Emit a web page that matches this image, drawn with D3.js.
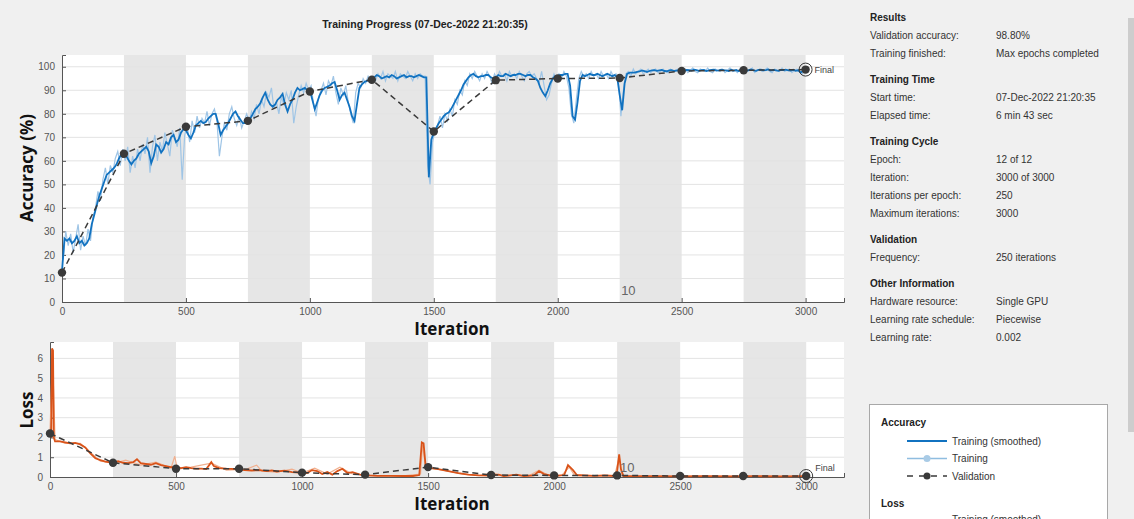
<!DOCTYPE html>
<html>
<head>
<meta charset="utf-8">
<script src="https://cdn.jsdelivr.net/npm/d3@7"></script>
<style>
  body { margin: 0; background: #f0f0f0; }
  svg { display: block; font-family: "Liberation Sans", Arial, sans-serif; }
  .tick text { fill: #555; font-size: 10px; }
  .panel-head { font-weight: bold; fill: #222; font-size: 10px; }
  .panel-text { fill: #333; font-size: 10px; }
  .axis-title { font-family: "Open Sans", "DejaVu Sans", sans-serif; font-weight: 700; font-size: 17px; fill: #111; }
</style>
</head>
<body>
<div id="chart"></div>
<script>
// ---- data ----
const epochBands = [[250, 500], [750, 1000], [1250, 1500], [1750, 2000], [2250, 2500], [2750, 3000]];

const valIter = [0, 250, 500, 750, 1000, 1250, 1500, 1750, 2000, 2250, 2500, 2750, 3000];
const valAcc  = [12.5, 63, 74.5, 77, 89.5, 94.5, 72.5, 94.3, 95, 95.2, 98.2, 98.5, 98.8];
const valLoss = [2.2, 0.72, 0.42, 0.42, 0.22, 0.12, 0.5, 0.1, 0.08, 0.08, 0.05, 0.05, 0.05];

// smoothed training accuracy (%), one value every 10 iterations from 0 to 3000
const accSmoothStep = 10;
const accSmoothed = [
  13,27,26,27,25,26,28,25,26,24, 25,27,33,37,41,45,48,51,54,55, 56,57,58.5,61,63,
  63,62,60,58.5,60,61,63,64,65,66, 64,59,62,67,66,63.5,65,68,67,70, 71,68,69,72,73.5,
  73,71,69.5,72,75,76,77,76,76.5,78, 79,80,80,76,71,73,74.5,76,78,80, 81,79,77.5,76,76,
  77,78,80,82,83,84.5,87,89,86,84, 83,84,86,87,88.5,84,81,84,86,89, 91,90,90.5,91,90,
  90,86,82,85,88,90,91,91.5,92,93, 93.5,90,86,88,89,86,83,79,77,84, 91,92.5,93.5,94,94.5,
  95,95.5,96.5,96,95,95.5,96,95.5,96.5,96, 95,95.5,96,96.5,95.5,96,96,95.5,96,96.5, 96,95.5,95.5,53,69,
  72,74,76,77.5,79,80,80.5,82,84,86, 88,90,92.5,94,95.5,96.5,97,96,95.5,96, 96,96.5,96.5,95.5,95,
  95.5,96.5,96,96,97,96.5,96,96.5,96.5,97, 97,96.5,96,96.5,96.5,95.5,95,94,91,89, 87.5,90,93,95,96,
  96,96.5,96.5,97,97,92,79,77.5,85,94, 96.5,96,96.5,97,96.5,96.5,97,96.5,96,96.5, 97,96.5,96,96.5,95.5,
  88,81.5,93,97,97.5,97.5,97.5,97.8,98,98.4, 98.2,97.8,98.2,98.5,98.6,98.3,98.5,98.7,98.2,98.1, 98.5,98.6,98.2,98.4,98.5,
  98.5,98.2,98.7,98.6,98.4,98.8,98.6,98.3,98.6,98.7, 98.2,98.5,98.7,98.8,98.4,98.5,98.8,98.6,98.5,98.2, 98.7,98.4,98.6,98.2,98.5,
  98.7,98.4,98.6,98.9,98.5,98.3,98.7,98.8,98.5,98.6, 98.9,98.4,98.7,98.5,98.3,98.7,98.6,98.8,98.5,98.4, 98.7,98.3,98.5,97.6,98.2,
  98.6
];

// raw training accuracy (%), one value every 10 iterations from 5 to 2995
const accRawStart = 5, accRawStep = 10;
const accRaw = [
  18,30,24,29,21,27,33,22,28,24, 31,26,36,40,47,43,52,57,50,58, 55,61,64,58,65,
  60,66,55,62,57,65,60,67,63,70, 55,66,71,60,68,64,72,67,62,73, 70,66,74,52,71,
  75,68,77,72,79,74,78,76,81,75, 80,82,77,62,70,76,73,80,83,78, 75,79,74,77,80,
  77,81,78,84,80,86,83,89,87,91, 82,85,80,87,84,89,86,90,76,83, 88,92,89,93,90,
  92,84,79,87,90,93,88,94,92,96, 89,84,91,88,92,85,80,76,89,93, 91,95,93,96,94,
  96,94,97,95,98,94,97,96,95,98, 94,97,96,95,98,96,94,97,95,97, 96,96,58,50,68,
  73,75,79,74,80,77,82,79,86,84, 90,88,94,92,97,95,98,96,94,97, 95,98,96,93,97,
  95,98,96,97,94,98,96,97,95,98, 96,94,97,98,96,97,95,93,98,92, 86,88,93,97,95,
  97,95,98,96,91,80,76,86,95,98, 96,97,95,98,96,97,95,98,96,97, 95,98,96,97,95,
  79,90,97,98,96,99,97,98,99,97, 98,99,97.5,98.5,99,97.5,98,99,98,97.5, 99,98,98.5,99,97.5,
  98.5,99,97.5,98.5,99.5,98,97.5,99,98.5,98, 99.5,98,97.5,99,98.5,98,99,97.5,98.5,99.5, 98,98.5,97.5,99,98.5,
  99,98,98.5,99.5,97.5,98.5,99,98,98.5,99.5, 98,97.5,99,98.5,98,99.5,98,98.5,99,97.5, 98.5,99,98,97,98
];

// smoothed training loss, [iteration, loss]
const lossSmoothed = [
  [0,2.2],[5,2.0],[8,6.5],[12,6.4],[15,2.0],[20,1.8],[40,1.8],[60,1.75],[80,1.7],[100,1.72],[120,1.65],
  [140,1.5],[160,1.2],[180,0.95],[200,0.85],[220,0.78],[250,0.72],[270,0.8],[290,0.72],[310,0.7],[330,0.75],
  [345,0.9],[360,0.7],[400,0.62],[420,0.7],[440,0.6],[460,0.55],[480,0.5],[500,0.5],[520,0.45],[540,0.5],
  [560,0.45],[580,0.42],[600,0.42],[620,0.4],[640,0.75],[650,0.55],[670,0.45],[700,0.42],[740,0.4],
  [760,0.36],[800,0.33],[830,0.35],[860,0.3],[880,0.33],[900,0.28],[930,0.32],[960,0.25],[990,0.22],
  [1020,0.2],[1040,0.35],[1060,0.3],[1080,0.15],[1100,0.25],[1120,0.12],[1140,0.3],[1160,0.42],[1180,0.2],
  [1200,0.25],[1230,0.12],[1260,0.08],[1300,0.06],[1350,0.06],[1400,0.05],[1440,0.05],[1465,0.1],
  [1475,1.75],[1482,1.7],[1490,0.6],[1510,0.45],[1540,0.4],[1580,0.3],[1620,0.2],[1660,0.12],[1700,0.08],
  [1750,0.07],[1780,0.12],[1800,0.05],[1850,0.12],[1880,0.05],[1920,0.08],[1940,0.3],[1960,0.15],
  [2000,0.05],[2040,0.1],[2055,0.6],[2075,0.35],[2090,0.1],[2120,0.08],[2160,0.06],[2200,0.08],[2240,0.05],
  [2250,0.3],[2258,1.15],[2265,0.4],[2275,0.05],[2300,0.04],[2400,0.04],[2500,0.03],[2600,0.04],
  [2700,0.03],[2800,0.04],[2900,0.03],[3000,0.04]
];

// raw training loss, [iteration, loss]
const lossRaw = [
  [0,2.3],[10,6.2],[20,1.9],[60,1.7],[120,1.7],[200,0.8],[260,0.7],[300,0.85],[360,0.6],[420,0.75],
  [480,0.45],[495,1.05],[505,0.4],[560,0.5],[640,0.7],[700,0.35],[780,0.4],[820,0.6],[840,0.3],
  [900,0.25],[960,0.4],[1000,0.2],[1050,0.45],[1100,0.15],[1150,0.5],[1200,0.15],[1300,0.05],
  [1400,0.06],[1470,0.15],[1478,1.6],[1490,0.5],[1560,0.35],[1640,0.15],[1700,0.08],[1760,0.2],
  [1800,0.05],[1860,0.1],[1900,0.06],[1940,0.35],[1980,0.06],[2030,0.08],[2060,0.5],[2080,0.1],
  [2100,0.05],[2160,0.07],[2240,0.05],[2258,1.0],[2270,0.05],[2400,0.03],[2600,0.04],[3000,0.03]
];

const accTicks  = [0, 10, 20, 30, 40, 50, 60, 70, 80, 90, 100];
const lossTicks = [0, 1, 2, 3, 4, 5, 6];
const iterTicks = [0, 500, 1000, 1500, 2000, 2500, 3000];

const infoRows = [
  { head: "Results" },
  { label: "Validation accuracy:", value: "98.80%" },
  { label: "Training finished:", value: "Max epochs completed" },
  { head: "Training Time" },
  { label: "Start time:", value: "07-Dec-2022 21:20:35" },
  { label: "Elapsed time:", value: "6 min 43 sec" },
  { head: "Training Cycle" },
  { label: "Epoch:", value: "12 of 12" },
  { label: "Iteration:", value: "3000 of 3000" },
  { label: "Iterations per epoch:", value: "250" },
  { label: "Maximum iterations:", value: "3000" },
  { head: "Validation" },
  { label: "Frequency:", value: "250 iterations" },
  { head: "Other Information" },
  { label: "Hardware resource:", value: "Single GPU" },
  { label: "Learning rate schedule:", value: "Piecewise" },
  { label: "Learning rate:", value: "0.002" }
];

// ---- drawing ----
const W = 1134, H = 519;
const colors = {
  smoothAcc: "#1172c0", rawAcc: "#9fc5e6",
  smoothLoss: "#d95319", rawLoss: "#f1b08f",
  val: "#3a3a3a", band: "#e6e6e6", grid: "#e3e3e3", axis: "#555"
};

const svg = d3.select("#chart").append("svg").attr("width", W).attr("height", H);
svg.append("rect").attr("width", W).attr("height", H).attr("fill", "#f0f0f0");

svg.append("text")
  .attr("x", 425).attr("y", 28)
  .attr("text-anchor", "middle")
  .attr("font-size", "10.5px").attr("font-weight", "bold").attr("fill", "#222")
  .text("Training Progress (07-Dec-2022 21:20:35)");

function drawPanel(cfg) {
  const x = d3.scaleLinear().domain(cfg.xDomain).range([cfg.left, cfg.right]);
  const y = d3.scaleLinear().domain(cfg.yDomain).range([cfg.bottom, cfg.top]);
  const g = svg.append("g");

  g.append("rect")
    .attr("x", cfg.left).attr("y", cfg.top)
    .attr("width", cfg.right - cfg.left).attr("height", cfg.bottom - cfg.top)
    .attr("fill", "#fff");

  g.selectAll(".band").data(epochBands).enter().append("rect")
    .attr("x", d => x(d[0])).attr("y", cfg.top)
    .attr("width", d => x(d[1]) - x(d[0])).attr("height", cfg.bottom - cfg.top)
    .attr("fill", colors.band);

  g.selectAll(".grid").data(cfg.yTicks.slice(1)).enter().append("line")
    .attr("x1", cfg.left).attr("x2", cfg.right)
    .attr("y1", d => y(d)).attr("y2", d => y(d))
    .attr("stroke", colors.grid).attr("stroke-width", 1);

  // axes with inward ticks
  const xAxis = g.append("g")
    .attr("transform", `translate(0,${cfg.bottom})`)
    .call(d3.axisBottom(x).tickValues(iterTicks).tickFormat(d3.format("d")).tickSize(-4).tickPadding(6));
  const yAxis = g.append("g")
    .attr("transform", `translate(${cfg.left},0)`)
    .call(d3.axisLeft(y).tickValues(cfg.yTicks).tickFormat(d3.format("d")).tickSize(-4).tickPadding(7));
  [xAxis, yAxis].forEach(a => {
    a.select(".domain").attr("stroke", colors.axis);
    a.selectAll(".tick line").attr("stroke", colors.axis);
    a.selectAll(".tick text").attr("font-family", "'Liberation Sans', Arial, sans-serif");
  });

  const line = d3.line().x(d => x(d[0])).y(d => y(d[1]));

  g.append("path").datum(cfg.raw)
    .attr("d", line).attr("fill", "none")
    .attr("stroke", cfg.rawColor).attr("stroke-width", 1.2);

  g.append("path").datum(cfg.smooth)
    .attr("d", line).attr("fill", "none")
    .attr("stroke", cfg.smoothColor).attr("stroke-width", 1.8);

  const valPts = valIter.map((it, i) => [it, cfg.val[i]]);
  g.append("path").datum(valPts)
    .attr("d", line).attr("fill", "none")
    .attr("stroke", colors.val).attr("stroke-width", 1.5)
    .attr("stroke-dasharray", "6,4");
  g.selectAll(".vdot").data(valPts).enter().append("circle")
    .attr("cx", d => x(d[0])).attr("cy", d => y(d[1]))
    .attr("r", 4.2).attr("fill", colors.val);

  const last = valPts[valPts.length - 1];
  g.append("circle")
    .attr("cx", x(last[0])).attr("cy", y(last[1]))
    .attr("r", 6.5).attr("fill", "none")
    .attr("stroke", colors.val).attr("stroke-width", 1);
  g.append("text")
    .attr("x", x(last[0]) + 9).attr("y", y(last[1]) + cfg.finalDy)
    .attr("font-size", "9px").attr("fill", "#444")
    .text("Final");

  g.append("text")
    .attr("x", x(cfg.markX)).attr("y", cfg.markY)
    .attr("text-anchor", "middle")
    .attr("font-size", "13px").attr("fill", "#666")
    .text("10");

  svg.append("text").attr("class", "axis-title")
    .attr("x", 452).attr("y", cfg.bottom + 33)
    .attr("text-anchor", "middle")
    .text("Iteration");
  svg.append("text").attr("class", "axis-title")
    .attr("transform", `translate(${cfg.yLabelX},${cfg.yLabelY}) rotate(-90)`)
    .attr("text-anchor", "middle")
    .text(cfg.yLabel);
}

const accSmoothPts = accSmoothed.map((v, i) => [i * accSmoothStep, v]);
const accRawPts = accRaw.map((v, i) => [accRawStart + i * accRawStep, v]);

drawPanel({
  left: 62, right: 844, top: 55, bottom: 302,
  xDomain: [0, 3155], yDomain: [0, 105], yTicks: accTicks,
  raw: accRawPts, smooth: accSmoothPts, val: valAcc,
  rawColor: colors.rawAcc, smoothColor: colors.smoothAcc,
  finalDy: 3, markX: 2285, markY: 295,
  yLabel: "Accuracy (%)", yLabelX: 33, yLabelY: 168
});

drawPanel({
  left: 50, right: 844, top: 342, bottom: 477,
  xDomain: [0, 3150], yDomain: [0, 6.83], yTicks: lossTicks,
  raw: lossRaw, smooth: lossSmoothed, val: valLoss,
  rawColor: colors.rawLoss, smoothColor: colors.smoothLoss,
  finalDy: -5, markX: 2290, markY: 472,
  yLabel: "Loss", yLabelX: 33, yLabelY: 410
});

// ---- info panel ----
const info = svg.append("g");
let yPos = 21;
infoRows.forEach((r, i) => {
  if (r.head) {
    if (i > 0) yPos += 8;
    info.append("text").attr("class", "panel-head").attr("x", 870).attr("y", yPos).text(r.head);
  } else {
    info.append("text").attr("class", "panel-text").attr("x", 870).attr("y", yPos).text(r.label);
    info.append("text").attr("class", "panel-text").attr("x", 996).attr("y", yPos).text(r.value);
  }
  yPos += 18;
});

// scrollbar
svg.append("rect").attr("x", 1128).attr("y", 18).attr("width", 6).attr("height", 414).attr("fill", "#cdcdcd");

// ---- legend ----
const leg = svg.append("g");
leg.append("rect").attr("x", 869.5).attr("y", 404.5).attr("width", 238).attr("height", 130)
  .attr("fill", "#fff").attr("stroke", "#a8a8a8");
leg.append("text").attr("class", "panel-head").attr("x", 881).attr("y", 426).text("Accuracy");

const legendItems = [
  { label: "Training (smoothed)", color: colors.smoothAcc, dash: null, dot: null, w: 2 },
  { label: "Training", color: "#8fbde0", dash: null, dot: "#a9cbe6", w: 1.5 },
  { label: "Validation", color: colors.val, dash: "6,6", dot: colors.val, w: 1.5 }
];
legendItems.forEach((it, i) => {
  const ly = 441 + i * 17.5;
  leg.append("line").attr("x1", 907).attr("x2", 947).attr("y1", ly).attr("y2", ly)
    .attr("stroke", it.color).attr("stroke-width", it.w)
    .attr("stroke-dasharray", it.dash);
  if (it.dot) leg.append("circle").attr("cx", 927).attr("cy", ly).attr("r", 3.5).attr("fill", it.dot);
  leg.append("text").attr("class", "panel-text").attr("x", 952).attr("y", ly + 3.5).text(it.label);
});
leg.append("text").attr("class", "panel-head").attr("x", 881).attr("y", 507).text("Loss");
leg.append("text").attr("class", "panel-text").attr("x", 952).attr("y", 523).text("Training (smoothed)");
</script>
</body>
</html>
